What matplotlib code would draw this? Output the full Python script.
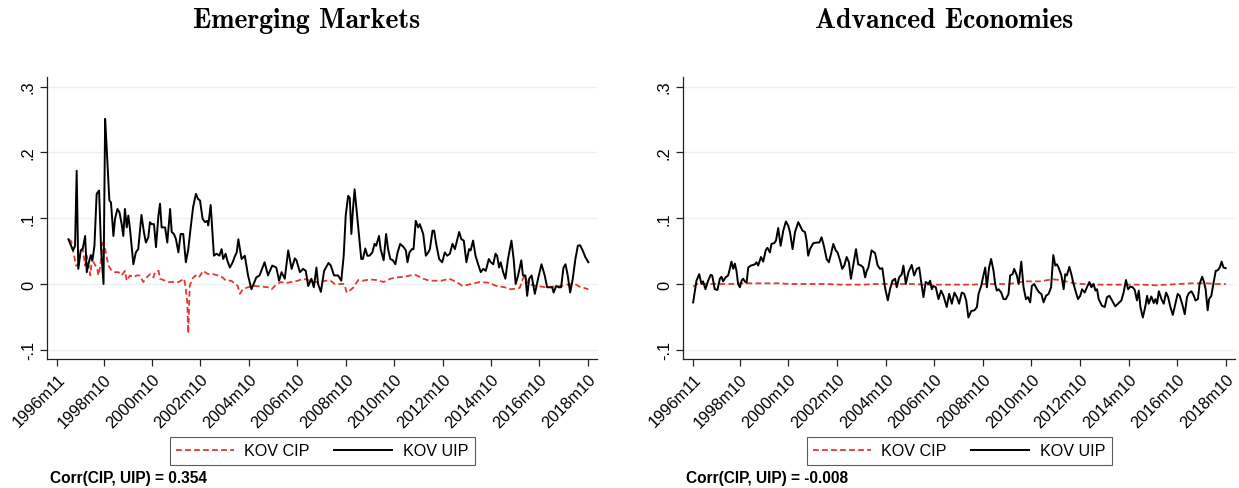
import matplotlib
matplotlib.use("Agg")
import matplotlib.pyplot as plt
from matplotlib.lines import Line2D

plt.rcParams["font.family"] = ["Liberation Sans", "DejaVu Sans"]

# months since 1996m11
em_uip_t = [5.6, 7.9, 8.9, 9.7, 10.5, 11.7, 12.7, 13.9, 14.7, 15.5, 16.7, 17.5, 18.5, 19.6, 20.8, 21.8,
            23.0, 23.8, 24.6, 25.9, 26.7, 27.9, 28.7, 29.9, 30.9, 32.0, 32.8, 33.6, 34.5, 35.3, 36.1,
            37.8, 39.0, 40.2, 41.8, 43.0, 44.0, 45.2, 46.0, 46.8, 48.0, 49.0, 50.2, 51.0, 51.8, 53.5,
            54.6, 56.0, 56.8, 57.9, 58.9, 60.1, 61.2, 62.5, 63.8, 65.0, 66.3, 67.4, 68.8, 69.9, 70.8,
            72.1, 73.3, 74.4, 74.9, 76.1, 77.7, 79.0, 80.4, 81.5, 82.3, 83.5, 84.3, 85.6, 87.0, 88.2,
            89.0, 89.8, 91.4, 93.0, 94.6, 96.3, 98.7, 100.3, 102.8, 104.5, 106.6, 108.6, 110.0, 111.2,
            112.8, 114.5, 116.2, 117.8, 118.6, 120.3, 121.9, 123.2, 124.4, 126.0, 127.2, 128.5, 129.3,
            130.7, 132.3, 134.5, 135.6, 137.2, 139.2, 140.8, 142.0, 143.0, 144.2, 145.0, 145.8, 146.6,
            147.4, 148.6, 149.6, 150.7, 151.5, 152.7, 153.7, 154.8, 156.2, 157.3, 158.1, 159.5, 160.3,
            161.8, 163.0, 164.0, 165.1, 166.4, 167.6, 168.7, 170.0, 171.7, 172.8, 173.6, 174.6, 175.8,
            176.6, 177.7, 178.9, 179.7, 181.4, 182.7, 183.9, 184.7, 186.0, 186.8, 188.0, 189.3, 190.8,
            192.1, 193.3, 194.6, 195.9, 197.1, 197.9, 199.2, 200.3, 201.5, 202.8, 204.1, 204.9, 206.1,
            207.3, 208.6, 209.9, 211.1, 212.4, 213.9, 214.9, 216.1, 217.2, 218.0, 219.0, 219.8, 221.0,
            222.1, 223.4, 225.1, 226.2, 227.2, 228.4, 230.0, 230.8, 232.0, 232.9, 233.9, 235.1, 236.7,
            238.3, 240.0, 241.6, 242.8, 244.1, 245.3, 246.0, 247.3, 248.5, 249.7, 250.9, 251.9, 253.0,
            254.2, 255.5, 256.8, 258.0, 259.1, 260.4, 261.7, 263.2]
em_uip_v = [.068, .051, .058, .172, .023, .051, .054, .073, .018, .030, .044, .036, .058, .137, .142, .053,
            .000, .251, .205, .127, .124, .073, .099, .114, .109, .091, .073, .114, .086, .104, .084,
            .030, .048, .053, .105, .079, .063, .071, .094, .091, .091, .056, .104, .122, .086, .086,
            .063, .114, .079, .076, .068, .048, .076, .076, .033, .053, .089, .117, .137, .129, .127,
            .099, .094, .096, .089, .120, .043, .046, .043, .053, .038, .046, .036, .025, .033, .043,
            .048, .068, .038, .043, .013, -.008, .010, .013, .033, .013, .028, .025, .005, .018,
            .008, .051, .023, .039, .036, .018, .023, .020, -.003, .008, -.005, .025, .000,
            -.012, .020, .032, .028, .013, .013, .005, .043, .104, .134, .131, .076, .114,
            .144, .106, .076, .038, .038, .054, .043, .043, .048, .061, .058, .073, .053,
            .036, .076, .053, .038, .036, .030, .048, .061, .056, .051, .033, .048, .053,
            .053, .096, .086, .091, .076, .043, .048, .053, .081, .081, .058, .038, .033,
            .048, .043, .046, .061, .053, .063, .079, .068, .066, .033, .053, .051, .066,
            .043, .030, .018, .023, .020, .038, .033, .030, .046, .043, .025, .033, .018,
            .008, .038, .066, .038, .000, .013, .036, .013, .013, -.018, .008, .013, -.015,
            .008, .030, .013, -.005, -.005, -.005, -.013, -.003, -.005, -.005, .025, .030, .013,
            -.013, .008, .038, .058, .059, .051, .041, .033]

em_cip_t = [5.7, 7.0, 9.4, 10.5, 11.5, 12.7, 13.9, 14.7, 16.5, 17.3, 18.1, 19.9, 20.5, 21.4, 22.7, 23.8,
            25.4, 27.1, 28.7, 30.4, 32.0, 33.6, 34.5, 36.1, 37.8, 39.4, 41.0, 42.7, 44.4, 46.0, 47.7,
            48.5, 50.3, 51.0, 53.5, 55.3, 57.7, 60.2, 62.9, 63.6, 64.5, 65.0, 65.7, 67.0, 68.6, 70.3,
            72.3, 74.8, 77.2, 79.6, 82.0, 83.7, 86.2, 88.4, 89.5, 90.6, 92.0, 94.5, 98.0, 101.5, 104.5,
            106.3, 108.5, 111.0, 113.0, 116.0, 119.3, 121.8, 124.5, 127.1, 130.0, 133.1, 135.5, 137.5,
            140.0, 142.3, 143.5, 145.0, 146.6, 149.2, 151.5, 155.0, 158.3, 161.8, 165.1, 168.4, 172.0,
            175.0, 177.5, 181.4, 184.5, 187.5, 190.5, 194.3, 197.9, 200.8, 205.2, 209.4, 213.5, 217.7,
            221.8, 225.0, 229.2, 230.8, 231.7, 233.3, 237.5, 242.4, 246.0, 249.5, 252.5, 256.6, 258.8,
            260.0, 263.2]
em_cip_v = [.068, .065, .028, .028, .048, .053, .028, .043, .013, .041, .033, .023, .013, .028, .063, .053,
            .028, .020, .018, .018, .013, .020, .005, .013, .010, .013, .013, .003, .010, .015, .010,
            .018, .020, .008, .005, .003, .003, .003, .008, -.003, -.028, -.075, -.003, .008, .013, .010,
            .020, .015, .015, .013, .010, .005, .005, .000, -.003, -.015, -.008, -.005, -.003, -.004, -.005,
            -.008, -.001, .003, .001, .003, .005, .008, .006, .003, .003, .005, .005, .000,
            .000, .000, -.013, -.010, -.006, .006, .005, .007, .006, .003, .008, .010, .011,
            .013, .014, .008, .005, .005, .005, .008, .003, -.003, .000, .003, .002, -.003,
            -.005, -.008, -.006, .008, .013, .000, -.003, -.005, -.004, -.003, -.001, .000, -.004,
            -.005, -.008]

ae_uip_t = [0.0, 1.65, 3.0, 4.1, 4.9, 6.1, 7.4, 8.7, 9.4, 10.7, 12.0, 13.2, 14.0, 14.8, 16.0, 17.3, 18.1,
            18.9, 19.8, 20.6, 21.4, 22.2, 23.1, 23.9, 24.7, 25.5, 26.4, 27.2, 28.5, 29.7, 30.5, 31.3,
            32.1, 33.5, 34.6, 35.8, 36.7, 37.9, 38.7, 40.0, 40.9, 42.0, 43.2, 44.5, 45.8, 46.9, 47.8,
            49.1, 50.3, 51.9, 53.0, 54.0, 55.2, 56.0, 56.8, 57.7, 59.3, 60.9, 62.3, 63.4, 64.7, 65.9,
            67.0, 68.1, 69.2, 70.4, 71.3, 72.5, 73.6, 74.6, 75.8, 76.9, 77.9, 79.0, 80.4, 81.5, 82.9,
            84.0, 84.9, 85.7, 86.5, 88.1, 89.8, 91.1, 92.3, 93.4, 94.7, 96.1, 97.2, 98.4, 99.7, 100.5,
            101.7, 103.0, 103.8, 105.0, 106.3, 107.9, 109.1, 110.4, 111.6, 112.5, 113.7, 114.8, 116.2,
            117.0, 117.8, 118.6, 119.8, 121.1, 122.4, 123.6, 125.2, 126.4, 127.7, 129.0, 130.2, 131.3,
            132.6, 133.8, 134.8, 135.9, 137.3, 138.9, 140.1, 140.9, 142.2, 143.3, 144.2, 145.0, 146.1,
            147.1, 148.3, 149.1, 149.9, 150.8, 152.1, 153.2, 154.4, 155.7, 156.5, 157.7, 158.5, 159.8,
            160.7, 162.0, 163.1, 164.3, 165.3, 166.4, 167.2, 168.4, 169.7, 170.9, 171.9, 173.0, 174.2,
            175.5, 176.7, 177.8, 178.8, 179.6, 180.4, 181.8, 182.9, 183.7, 184.5, 185.7, 186.7, 187.8,
            189.0, 190.0, 191.1, 192.0, 193.3, 194.4, 195.6, 196.6, 197.7, 198.6, 199.4, 200.2, 201.8,
            203.2, 204.3, 205.5, 206.8, 208.4, 209.7, 211.4, 212.5, 213.7, 214.7, 215.8, 217.0, 218.0,
            219.1, 220.0, 220.8, 222.0, 223.3, 224.1, 224.9, 226.2, 227.4, 228.2, 229.0, 229.9, 231.2,
            232.3, 233.5, 234.5, 235.6, 236.8, 238.1, 239.2, 240.2, 241.4, 242.7, 243.8, 244.7, 246.0,
            247.2, 248.0, 249.2, 250.0, 251.3, 252.2, 253.0, 254.0, 254.7, 255.8, 256.8, 258.0, 259.1,
            260.1, 260.9, 261.8, 262.9]
ae_uip_v = [-.028, .005, .015, .000, .004, -.008, .005, .014, .013, -.008, -.009, .008, .011, .004, .010, .013, .023,
            .034, .023, .031, .020, .000, -.005, .005, .008, .004, .002, .025, .028, .029, .030, .033,
            .028, .041, .034, .051, .055, .048, .061, .062, .066, .085, .058, .081, .095, .089, .079,
            .053, .079, .094, .087, .081, .079, .066, .043, .053, .062, .063, .063, .071, .056, .038,
            .033, .046, .061, .051, .048, .036, .023, .028, .041, .033, .008, .028, .053, .030, .028,
            .025, .010, .020, .025, .051, .047, .028, .023, .024, -.005, -.025, -.008, .005, .008, -.005,
            .010, .015, .028, .000, .018, .029, .013, .023, .025, .005, -.020, .003, .000,
            .005, -.008, -.003, -.005, -.023, -.010, -.018, -.035, -.015, -.030, -.013, -.020, -.030,
            -.013, -.015, -.025, -.051, -.041, -.040, -.035, -.015, -.003, .013, .025, -.005, .025,
            .038, .020, .000, -.010, -.008, -.013, -.023, -.023, -.015, .013, .015, .023, .013,
            .000, .034, -.005, -.023, -.020, -.028, -.003, .000, -.008, -.013, -.015, -.028, -.018,
            -.015, -.005, .044, .028, .030, .025, .013, -.008, .015, .013, .026, .015, .000,
            -.013, -.023, -.018, -.008, -.013, -.005, .003, -.005, .000, -.010, -.008, -.023, -.033,
            -.035, -.020, -.018, -.025, -.034, -.030, -.025, -.013, .006, -.008, -.004, -.005, -.009,
            -.025, -.010, -.035, -.051, -.033, -.018, -.030, -.019, -.029, -.023, -.030, -.011, -.023,
            -.030, -.013, -.020, -.035, -.047, -.030, -.015, -.018, -.030, -.046, -.020, -.014, -.011,
            -.018, -.025, -.023, .000, .011, .003, -.008, -.040, -.023, -.018, .000, .020, .021,
            .026, .034, .025, .024]

ae_cip_t = [0, 2, 6, 12, 18, 24, 30, 36, 42, 48, 54, 60, 66, 72, 78, 84, 90, 96, 102, 108, 114, 120,
            126, 132, 138, 144, 150, 156, 160, 164, 168, 172, 175, 178, 181, 184, 188, 192, 198, 204,
            210, 216, 222, 228, 234, 240, 246, 250, 254, 258, 263]
ae_cip_v = [-.004, .000, .000, .000, .000, .001, .001, .001, .001, .000, .000, .000, .000, -.001, -.001,
            -.001, .000, .000, .000, .000, -.001, -.001, -.001, -.001, -.001, .000, .000, .000, .002,
            .004, .004, .004, .006, .007, .006, .004, .001, .000, -.001, -.001, -.001, -.001, -.001,
            -.002, -.001, .000, .001, .001, .001, .000, .000]

tick_pos = [0, 23, 47, 71, 95, 119, 143, 167, 191, 215, 239, 263]
tick_lab = ["1996m11", "1998m10", "2000m10", "2002m10", "2004m10", "2006m10",
            "2008m10", "2010m10", "2012m10", "2014m10", "2016m10", "2018m10"]
y_pos = [-0.1, 0, 0.1, 0.2, 0.3]
y_lab = ["-.1", "0", ".1", ".2", ".3"]

panels = [
    ("Emerging Markets", em_cip_t, em_cip_v, em_uip_t, em_uip_v, "Corr(CIP, UIP) = 0.354"),
    ("Advanced Economies", ae_cip_t, ae_cip_v, ae_uip_t, ae_uip_v, "Corr(CIP, UIP) = -0.008"),
]

W, H = 1239, 489
fig = plt.figure(figsize=(W / 100, H / 100), dpi=100)

red = "#e3392c"
# axes boxes in pixels: left, top, right, bottom
boxes = [(47, 78, 597, 360), (683, 78, 1235, 360)]
title_x = [307, 944]
corr_x = [50, 686]

for i, (title, ct, cv, ut, uv, corr) in enumerate(panels):
    l, t, r, b = boxes[i]
    ax = fig.add_axes([l / W, 1 - b / H, (r - l) / W, (b - t) / H])
    for yy in y_pos:
        ax.axhline(yy, color="#eaf1f2", lw=1.0, zorder=0)
    ax.plot(ct, cv, color=red, lw=1.3, dashes=(3.2, 1.8), zorder=2)
    ax.plot(ut, uv, color="black", lw=1.4, zorder=3)
    ax.set_xlim(-5, 267.5)
    ax.set_ylim(-0.114, 0.3146)
    ax.set_xticks(tick_pos)
    ax.set_xticklabels(tick_lab, rotation=45, ha="right", rotation_mode="anchor", fontsize=11.8)
    ax.set_yticks(y_pos)
    ax.set_yticklabels(y_lab, rotation=90, va="center", fontsize=11.8)
    ax.tick_params(axis="both", direction="out", length=5, width=0.9, color="#222222", pad=3)
    ax.tick_params(axis="x", pad=4)
    for s in ["top", "right"]:
        ax.spines[s].set_visible(False)
    for s in ["left", "bottom"]:
        ax.spines[s].set_linewidth(0.9)
        ax.spines[s].set_color("#222222")

    fig.text(title_x[i] / W, 1 - 21 / H, title, ha="center", va="center",
             fontfamily="cmb10", fontsize=20)

    handles = [Line2D([], [], color=red, lw=1.3, dashes=(3.2, 1.8)),
               Line2D([], [], color="black", lw=1.4)]
    cx = (l + r) / 2
    leg = fig.legend(handles, ["KOV CIP", "KOV UIP"], loc="center",
                     bbox_to_anchor=(cx / W, 1 - 452 / H), ncol=2, fontsize=11.6,
                     frameon=True, fancybox=False, handlelength=3.6, columnspacing=1.5,
                     handletextpad=0.65, borderpad=0.4, borderaxespad=0)
    leg.get_frame().set_edgecolor("#333333")
    leg.get_frame().set_linewidth(0.8)

    fig.text(corr_x[i] / W, 1 - 479 / H, corr, ha="left", va="center",
             fontsize=11.2, fontweight="bold")

fig.savefig("out.png", dpi=100)
